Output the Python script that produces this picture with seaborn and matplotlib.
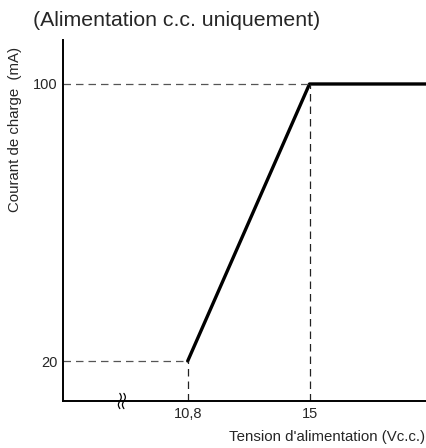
import matplotlib
matplotlib.use('Agg')
import matplotlib.pyplot as plt
import seaborn as sns
import numpy as np
import pandas as pd

# curve
voltage = [10.8, 15.0, 19.1]
current = [20, 100, 100]
x_ticks = [10.8, 15.0]
x_tick_labels = ['10,8', '15']
y_ticks = [20, 100]
y_tick_labels = ['20', '100']

sns.set_style('white')
plt.rcParams['font.family'] = ['Liberation Sans', 'DejaVu Sans']

fig = plt.figure(figsize=(4.27, 4.48), dpi=100)
ax = fig.add_axes([0.1475, 0.1049, 0.8525, 0.8058])

x_min, x_max = 6.5, 19.05
y_min, y_max = 8.45, 112.7

df = pd.DataFrame({'V': voltage, 'I': current})
sns.lineplot(data=df, x='V', y='I', ax=ax, color='black', linewidth=2.4,
             sort=False)

# guide lines
for xv, yv in zip(voltage[:2], current[:2]):
    ax.plot([x_min, xv], [yv, yv], color='#555555', linewidth=0.9,
            linestyle=(0, (6, 4)))
    ax.plot([xv, xv], [y_min, yv], color='#222222', linewidth=0.9,
            linestyle=(0, (6, 4)))

ax.set_xlim(x_min, x_max)
ax.set_ylim(y_min, y_max)
ax.set_xticks(x_ticks)
ax.set_xticklabels(x_tick_labels)
ax.set_yticks(y_ticks)
ax.set_yticklabels(y_tick_labels)
ax.tick_params(axis='both', length=0, labelsize=10.5, pad=4)
ax.set_xlabel('')
ax.set_ylabel('')

for s in ['top', 'right']:
    ax.spines[s].set_visible(False)
for s in ['left', 'bottom']:
    ax.spines[s].set_color('black')
    ax.spines[s].set_linewidth(1.4)

# axis break mark
xb = 8.53
t = np.linspace(-1, 1, 30)
for off in (-0.07, 0.07):
    ax.plot(xb + off + 0.05 * np.sin(t * np.pi), y_min + t * 2.2,
            color='black', linewidth=0.9, clip_on=False)

fig.text(33 / 427, 1 - 20 / 448, '(Alimentation c.c. uniquement)',
         fontsize=15.3, ha='left', va='center')
fig.text(15 / 427, 1 - 129 / 448, 'Courant de charge  (mA)',
         fontsize=10.8, rotation=90, ha='center', va='center')
fig.text(425 / 427, 1 - 437 / 448, "Tension d'alimentation (Vc.c.)",
         fontsize=10.8, ha='right', va='center')

fig.savefig('out.png', dpi=100)
